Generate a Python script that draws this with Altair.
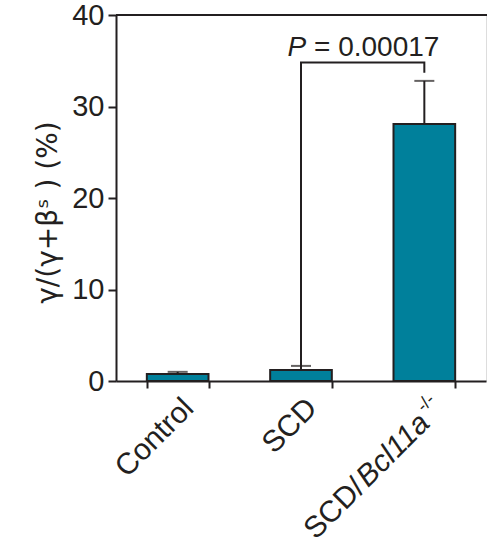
import altair as alt
import pandas as pd

# ---- data ----
categories = ["Control", "SCD", "SCD/Bcl11a-/-"]
means = [0.77, 1.2, 28.1]
err_tops = [1.0, 1.65, 32.8]
bracket_cats = ["SCD", "SCD", "SCD/Bcl11a-/-", "SCD/Bcl11a-/-"]
bracket_vals = [1.65, 34.8, 34.8, 33.7]
bracket_order = [0, 1, 2, 3]
p_label_cat = ["SCD"]
p_label_y = [35.5]
p_label_P = "P"
p_label_rest = "= 0.00017"
y_ticks = [0, 10, 20, 30, 40]
y_title = "γ/(γ+βˢ  )  (%)"

W, H = 370, 366
TEAL = "#00809B"
INK = "#231F20"
FONT = "Liberation Sans"

bars_df = pd.DataFrame({"cat": categories, "mean": means, "top": err_tops})
bracket_df = pd.DataFrame({"cat": bracket_cats, "v": bracket_vals, "o": bracket_order})
p_df = pd.DataFrame({"cat": p_label_cat, "v": p_label_y})

xscale = alt.Scale(domain=categories, paddingInner=0.5, paddingOuter=0.25)
x_enc = alt.X("cat:N", sort=categories, scale=xscale,
              axis=alt.Axis(labels=False, title=None, tickBand="extent", tickSize=7,
                            tickWidth=2, domainWidth=2, domainColor=INK, tickColor=INK,
                            grid=False))
yscale = alt.Scale(domain=[0, 40], nice=False)
y_axis = alt.Axis(values=y_ticks, tickSize=8, tickWidth=2, domainWidth=2,
                  domainColor=INK, tickColor=INK, labelColor=INK,
                  labelFontSize=29, labelFont=FONT, labelPadding=4, grid=False,
                  title=y_title, titleFont="DejaVu Sans", titleFontSize=28,
                  titleFontWeight="normal", titleColor=INK, titleX=-60, titleY=197,
                  titleAlign="center", titleBaseline="alphabetic", titleAngle=270)

base = alt.Chart(bars_df)

bars = base.mark_bar(fill=TEAL, stroke=INK, strokeWidth=2).encode(
    x=x_enc,
    y=alt.Y("mean:Q", scale=yscale, axis=y_axis),
)
err = base.mark_rule(color=INK, strokeWidth=2).encode(
    x=alt.X("cat:N", sort=categories), y="mean:Q", y2="top:Q")
caps = base.mark_tick(color=INK, thickness=2, size=20).encode(
    x=alt.X("cat:N", sort=categories), y="top:Q")

bracket = alt.Chart(bracket_df).mark_line(color=INK, strokeWidth=2).encode(
    x=alt.X("cat:N", sort=categories), y="v:Q", order="o:Q")

pP = alt.Chart(p_df).mark_text(text=p_label_P, font=FONT, fontSize=28, fontStyle="italic",
                               align="left", baseline="alphabetic", dx=-13.5, color=INK).encode(
    x=alt.X("cat:N", sort=categories), y="v:Q")
pRest = alt.Chart(p_df).mark_text(text=p_label_rest, font=FONT, fontSize=28,
                                  align="left", baseline="alphabetic", dx=13, color=INK).encode(
    x=alt.X("cat:N", sort=categories), y="v:Q")

# x category labels (rotated), third one with italic gene name and superscript
lab12 = base.transform_filter(alt.FieldOneOfPredicate(field="cat", oneOf=categories[:2])).mark_text(
    font=FONT, fontSize=30, angle=315, align="right", baseline="top", dx=-8, dy=9, color=INK
).encode(x=alt.X("cat:N", sort=categories), y=alt.datum(0), text="cat:N")
third = base.transform_filter(alt.FieldEqualPredicate(field="cat", equal=categories[2]))
lab3a = third.mark_text(text="SCD/", font=FONT, fontSize=30, angle=315, align="right",
                        baseline="top", dx=-26 - 92, dy=12, color=INK).encode(
    x=alt.X("cat:N", sort=categories), y=alt.datum(0))
lab3b = third.mark_text(text="Bcl11a", font=FONT, fontSize=30, fontStyle="italic", angle=315,
                        align="right", baseline="top", dx=-26, dy=12, color=INK).encode(
    x=alt.X("cat:N", sort=categories), y=alt.datum(0))
lab3c = third.mark_text(text="-/-", font=FONT, fontSize=18, angle=315, align="right",
                        baseline="top", dx=-6, dy=8, color=INK).encode(
    x=alt.X("cat:N", sort=categories), y=alt.datum(0))

top_line = base.mark_rule(color=INK, strokeWidth=2).encode(
    y=alt.datum(40), x=alt.value(0), x2=alt.value(W + 2))

chart = alt.layer(bars, err, caps, bracket, pP, pRest, lab12, lab3a, lab3b, lab3c, top_line).properties(
    width=W, height=H,
    autosize=alt.AutoSizeParams(type="none"),
    padding={"left": 116, "top": 15, "right": 1, "bottom": 165},
).configure_view(stroke=None).configure(background="white")

chart.save("out.html", embed_options={"renderer": "svg", "actions": False})
